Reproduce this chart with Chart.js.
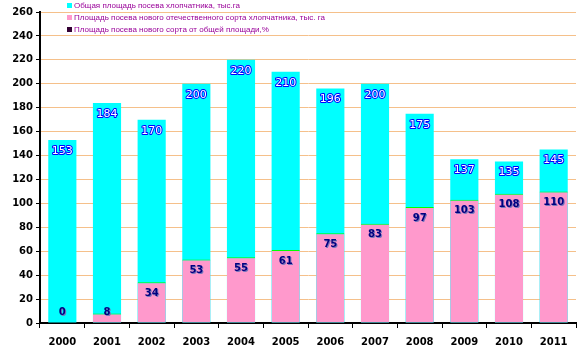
<!DOCTYPE html>
<html>
<head>
<meta charset="utf-8">
<script src="https://cdn.jsdelivr.net/npm/chart.js@4.4.1/dist/chart.umd.min.js"></script>
<style>
  html, body { margin: 0; padding: 0; background: #fff; }
  #wrap { position: relative; width: 578px; height: 361px; }
  #legend { position: absolute; left: 67px; top: 0px; font: 8px "Liberation Sans", Arial, sans-serif; color: #990099; }
  #legend div { height: 12px; line-height: 11px; white-space: nowrap; }
  #legend span { display: inline-block; width: 5px; height: 5px; margin-right: 2px; vertical-align: 0px; }
</style>
</head>
<body>
<div id="wrap">
  <canvas id="chart" width="578" height="361"></canvas>
  <div id="legend"></div>
</div>
<script>
const years = ['2000', '2001', '2002', '2003', '2004', '2005', '2006', '2007', '2008', '2009', '2010', '2011'];
const totalArea = [153, 184, 170, 200, 220, 210, 196, 200, 175, 137, 135, 145];
const newVariety = [0, 8, 34, 53, 55, 61, 75, 83, 97, 103, 108, 110];
const seriesNames = [
  'Общая площадь посева хлопчатника, тыс.га',
  'Площадь посева нового отечественного сорта хлопчатника, тыс. га',
  'Площадь посева нового сорта от общей площади,%'
];
const seriesColors = ['#00FFFF', '#FF99CC', '#330033'];

// legend sits over the plot, like in the original
document.getElementById('legend').innerHTML = seriesNames
  .map((n, i) => `<div><span style="background:${seriesColors[i]}"></span>${n}</div>`)
  .join('');

// value labels drawn inside the bars
const valueLabels = {
  id: 'valueLabels',
  afterDatasetsDraw(chart) {
    const ctx = chart.ctx;
    const base = chart.scales.y.getPixelForValue(0);
    ctx.save();
    ctx.textAlign = 'center';
    ctx.textBaseline = 'middle';
    ctx.font = '11px "DejaVu Sans"';
    chart.getDatasetMeta(1).data.forEach((bar, i) => {
      const y = bar.y + 11;
      ctx.lineWidth = 2;
      ctx.lineJoin = 'round';
      ctx.strokeStyle = '#0000FF';
      ctx.strokeText(totalArea[i], bar.x, y);
      ctx.fillStyle = '#FFFFFF';
      ctx.fillText(totalArea[i], bar.x, y);
    });
    ctx.font = 'bold 10px "DejaVu Sans"';
    chart.getDatasetMeta(0).data.forEach((bar, i) => {
      const y = Math.min(bar.y + 11, base - 11);
      ctx.fillStyle = '#7777bb';
      ctx.fillText(newVariety[i], bar.x + 1, y + 1);
      ctx.fillStyle = '#000080';
      ctx.fillText(newVariety[i], bar.x, y);
    });
    ctx.restore();
  }
};

new Chart(document.getElementById('chart'), {
  type: 'bar',
  data: {
    labels: years,
    datasets: [
      {
        label: seriesNames[1],
        data: newVariety,
        backgroundColor: seriesColors[1],
        borderColor: '#00FF00',
        borderWidth: { top: 1, left: 0, right: 0, bottom: 0 },
        borderSkipped: false,
        grouped: false,
        barPercentage: 0.63,
        categoryPercentage: 1
      },
      {
        label: seriesNames[0],
        data: totalArea,
        backgroundColor: seriesColors[0],
        borderWidth: 0,
        grouped: false,
        barPercentage: 0.63,
        categoryPercentage: 1
      }
    ]
  },
  options: {
    responsive: false,
    animation: false,
    events: [],
    layout: { padding: { top: 12, right: 2, left: 0, bottom: 0 } },
    plugins: { legend: { display: false }, tooltip: { enabled: false } },
    scales: {
      x: {
        afterFit(s) { s.height = 38; },
        grid: { display: true, drawOnChartArea: false, offset: true, tickLength: 5, tickColor: '#000', lineWidth: 1 },
        border: { color: '#000', width: 2 },
        ticks: { color: '#000', font: { family: 'DejaVu Sans', size: 10, weight: 'bold' }, padding: 8 }
      },
      y: {
        min: 0,
        max: 260,
        afterFit(s) { s.width = 40; },
        grid: { color: '#F5C08A', tickColor: '#000', tickLength: 4, lineWidth: 1 },
        border: { color: '#000', width: 2 },
        ticks: { stepSize: 20, color: '#000', font: { family: 'DejaVu Sans', size: 10, weight: 'bold' }, padding: 3 }
      }
    }
  },
  plugins: [valueLabels]
});
</script>
</body>
</html>
